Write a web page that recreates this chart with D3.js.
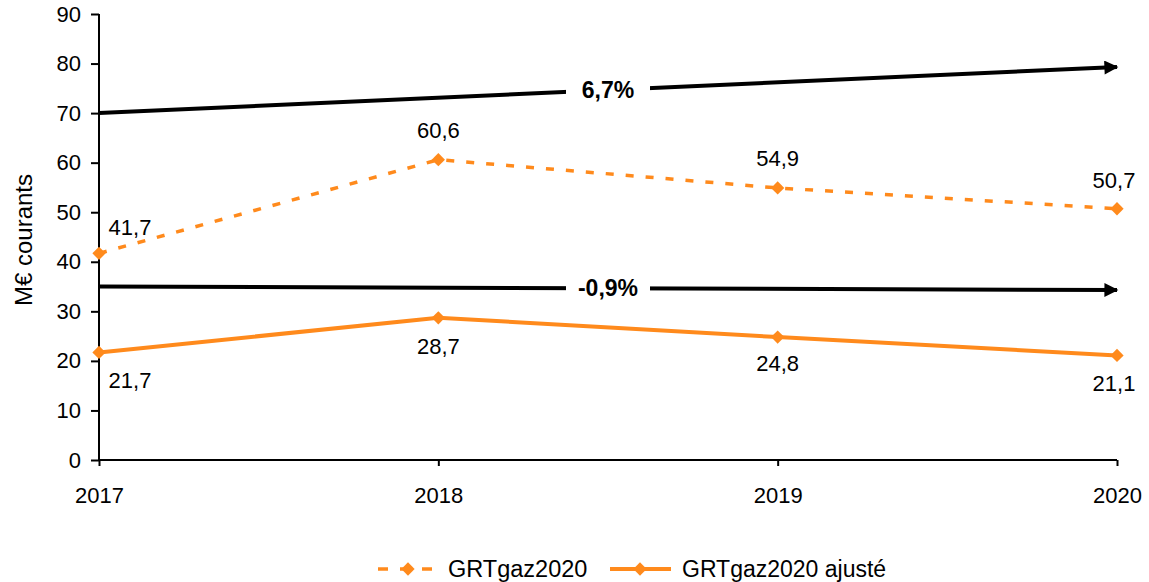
<!DOCTYPE html>
<html><head><meta charset="utf-8">
<script src="https://cdn.jsdelivr.net/npm/d3@7"></script>
<style>body{margin:0;background:#fff;font-family:"Liberation Sans",Arial,sans-serif;}</style>
</head><body><svg id="c" width="1149" height="582"></svg>
<script>
const years = ["2017","2018","2019","2020"];
const grt2020 = [41.7, 60.6, 54.9, 50.7];
const grt2020adj = [21.7, 28.7, 24.8, 21.1];
const yTicks = [0,10,20,30,40,50,60,70,80,90];
const trendTop = [70, 79.3];
const trendTopLabel = "6,7%";
const trendBottom = [35, 34.3];
const trendBottomLabel = "-0,9%";
const seriesNames = ["GRTgaz2020", "GRTgaz2020 ajusté"];

const orange = "#ff8a1c";
const svg = d3.select("#c");
const x = d3.scalePoint().domain(years).range([99, 1117]);
const y = d3.scaleLinear().domain([0, 90]).range([460, 14]);
const fnt = "Liberation Sans, Arial, sans-serif";
const FS = 22;
const fmt = v => String(v.toFixed(1)).replace(".", ",");

// axes
const ya = svg.append("g").attr("transform","translate(99,0)")
  .call(d3.axisLeft(y).tickValues(yTicks).tickSize(8).tickPadding(10).tickFormat(d3.format("d")));
const xa = svg.append("g").attr("transform","translate(0,460)")
  .call(d3.axisBottom(x).tickSize(6).tickPadding(21));
[ya, xa].forEach(a => {
  a.selectAll("path,line").attr("stroke","#000").attr("stroke-width",2);
  a.selectAll("text").attr("font-family",fnt).attr("font-size",FS).attr("fill","#000");
});
xa.select(".domain").attr("d","M99,0H1117");
ya.select(".domain").attr("d","M0,460V14");

svg.append("text").attr("transform","translate(32,240) rotate(-90)")
  .attr("text-anchor","middle").attr("font-family",fnt).attr("font-size",24).text("M€ courants");

// trend arrows
svg.append("defs").append("marker").attr("id","ah").attr("viewBox","0 0 10 10")
  .attr("refX",9).attr("refY",5).attr("markerWidth",4).attr("markerHeight",3.5)
  .attr("orient","auto").attr("markerUnits","strokeWidth")
  .append("path").attr("d","M0,0L10,5L0,10Z").attr("fill","#000");
function trend(vals, label){
  const x0 = x(years[0]), x1 = x(years[years.length-1]);
  svg.append("line").attr("x1",x0).attr("y1",y(vals[0])).attr("x2",x1).attr("y2",y(vals[1]))
    .attr("stroke","#000").attr("stroke-width",4).attr("marker-end","url(#ah)");
  const mx = 608, t = (mx - x0)/(x1 - x0), my = y(vals[0]) + t*(y(vals[1]) - y(vals[0]));
  svg.append("rect").attr("x",mx-42).attr("y",my-14).attr("width",84).attr("height",28).attr("fill","#fff");
  svg.append("text").attr("x",mx).attr("y",my+8).attr("text-anchor","middle")
    .attr("font-family",fnt).attr("font-size",23).attr("font-weight","bold").text(label);
}
trend(trendTop, trendTopLabel);
trend(trendBottom, trendBottomLabel);

// series
const line = d3.line().x((d,i)=>x(years[i])).y(d=>y(d));
const diamond = d3.symbol().type(d3.symbolSquare).size(88);
svg.append("path").datum(grt2020).attr("d",line).attr("fill","none").attr("stroke",orange)
  .attr("stroke-width",3.5).attr("stroke-dasharray","8,12");
svg.append("path").datum(grt2020adj).attr("d",line).attr("fill","none").attr("stroke",orange)
  .attr("stroke-width",4);
[grt2020, grt2020adj].forEach(s => {
  svg.selectAll(null).data(s).enter().append("path").attr("d",diamond)
    .attr("transform",(d,i)=>`translate(${x(years[i])},${y(d)}) rotate(45)`).attr("fill",orange);
});

// labels
const topOff = [[31,-18],[0,-22],[0,-22],[-3,-21]];
const botOff = [[31,36],[0,36],[0,34],[-3,36]];
svg.selectAll(null).data(grt2020).enter().append("text")
  .attr("x",(d,i)=>x(years[i])+topOff[i][0]).attr("y",(d,i)=>y(d)+topOff[i][1])
  .attr("text-anchor","middle").attr("font-family",fnt).attr("font-size",FS).text(fmt);
svg.selectAll(null).data(grt2020adj).enter().append("text")
  .attr("x",(d,i)=>x(years[i])+botOff[i][0]).attr("y",(d,i)=>y(d)+botOff[i][1])
  .attr("text-anchor","middle").attr("font-family",fnt).attr("font-size",FS).text(fmt);

// legend
const lg = svg.append("g");
lg.append("line").attr("x1",378).attr("x2",438).attr("y1",569).attr("y2",569)
  .attr("stroke",orange).attr("stroke-width",3.5).attr("stroke-dasharray","10,12");
lg.append("path").attr("d",diamond).attr("transform","translate(408,569) rotate(45)").attr("fill",orange);
lg.append("text").attr("x",448).attr("y",577).attr("font-family",fnt).attr("font-size",23.5).text(seriesNames[0]);
lg.append("line").attr("x1",610).attr("x2",671).attr("y1",569).attr("y2",569)
  .attr("stroke",orange).attr("stroke-width",4);
lg.append("path").attr("d",diamond).attr("transform","translate(640,569) rotate(45)").attr("fill",orange);
lg.append("text").attr("x",682).attr("y",577).attr("font-family",fnt).attr("font-size",23).text(seriesNames[1]);
</script></body></html>
